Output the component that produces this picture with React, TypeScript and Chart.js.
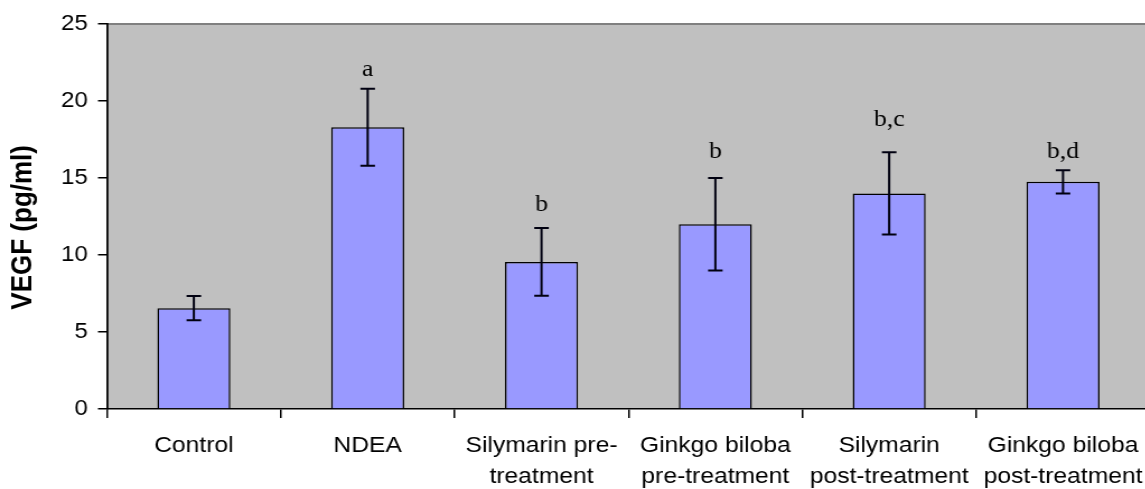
import React, { useEffect, useRef } from "react";
import { Chart, registerables } from "chart.js";

Chart.register(...registerables);

const categories: string[][] = [
  ["Control"],
  ["NDEA"],
  ["Silymarin pre-", "treatment"],
  ["Ginkgo biloba", "pre-treatment"],
  ["Silymarin", "post-treatment"],
  ["Ginkgo biloba", "post-treatment"],
];
const means = [6.55, 18.3, 9.55, 12.0, 14.0, 14.75];
const errors = [0.78, 2.5, 2.2, 3.0, 2.67, 0.75];
const letters = ["", "a", "b", "b", "b,c", "b,d"];
const letterValues = [0, 22.0, 13.25, 16.7, 18.8, 16.7];
const yTicks = [0, 5, 10, 15, 20, 25];

// horizontal stretch of the reference picture
const STRETCH = 1.12;
const CANVAS_W = 1036;
const CANVAS_H = 489;

const plotBg = {
  id: "plotBg",
  beforeDraw(chart: any) {
    const { ctx, chartArea } = chart;
    ctx.save();
    ctx.fillStyle = "#c0c0c0";
    ctx.fillRect(chartArea.left, chartArea.top, chartArea.right - chartArea.left, chartArea.bottom - chartArea.top);
    ctx.strokeStyle = "#808080";
    ctx.lineWidth = 2;
    ctx.beginPath();
    ctx.moveTo(chartArea.left, chartArea.top);
    ctx.lineTo(chartArea.right, chartArea.top);
    ctx.stroke();
    ctx.restore();
  },
};

const errorBars = {
  id: "errorBars",
  afterDatasetsDraw(chart: any) {
    const { ctx } = chart;
    const meta = chart.getDatasetMeta(0);
    const y = chart.scales.y;
    ctx.save();
    ctx.strokeStyle = "#000010";
    ctx.lineWidth = 2;
    meta.data.forEach((bar: any, i: number) => {
      const x = bar.x;
      const top = y.getPixelForValue(means[i] + errors[i]);
      const bot = y.getPixelForValue(means[i] - errors[i]);
      const cap = 6.5;
      ctx.beginPath();
      ctx.moveTo(x, top);
      ctx.lineTo(x, bot);
      ctx.moveTo(x - cap, top);
      ctx.lineTo(x + cap, top);
      ctx.moveTo(x - cap, bot);
      ctx.lineTo(x + cap, bot);
      ctx.stroke();
      if (letters[i]) {
        ctx.fillStyle = "#000";
        ctx.font = "23px 'Liberation Serif', serif";
        ctx.textAlign = "center";
        ctx.textBaseline = "middle";
        ctx.fillText(letters[i], x, y.getPixelForValue(letterValues[i]));
      }
    });
    ctx.restore();
  },
};

export default function App() {
  const ref = useRef<HTMLCanvasElement>(null);
  useEffect(() => {
    if (!ref.current) return;
    const chart = new Chart(ref.current, {
      type: "bar",
      data: {
        labels: categories as any,
        datasets: [
          {
            data: means,
            backgroundColor: "#9999ff",
            borderColor: "#000000",
            borderWidth: 1.5,
            categoryPercentage: 1,
            barPercentage: 0.42,
          },
        ],
      },
      options: {
        responsive: false,
        animation: false,
        devicePixelRatio: 1,
        layout: { padding: { top: 24, right: 9, left: 0, bottom: 0 } },
        plugins: { legend: { display: false }, tooltip: { enabled: false } },
        scales: {
          x: {
            afterFit(scale: any) {
              scale.height = 80;
              scale.paddingLeft = 0;
              scale.paddingRight = 0;
            },
            grid: { drawOnChartArea: false, offset: true, tickLength: 9, color: "#000", lineWidth: 1.5 },
            border: { color: "#000", width: 1.5 },
            ticks: {
              color: "#000",
              padding: 13,
              maxRotation: 0,
              autoSkip: false,
              font: { family: "'Liberation Sans', Arial, sans-serif", size: 22, lineHeight: 1.4 },
            },
          },
          y: {
            min: 0,
            max: 25,
            afterFit(scale: any) {
              scale.width = 95.5;
              scale.paddingTop = 0;
              scale.paddingBottom = 0;
            },
            afterBuildTicks(scale: any) {
              scale.ticks = yTicks.map((v) => ({ value: v }));
            },
            grid: { drawOnChartArea: false, tickLength: 8, color: "#000", lineWidth: 1.5 },
            border: { color: "#000", width: 1.8 },
            ticks: {
              color: "#000",
              padding: 9,
              font: { family: "'Liberation Sans', Arial, sans-serif", size: 21.5 },
            },
            title: {
              display: true,
              text: "VEGF (pg/ml)\u00a0\u00a0\u00a0",
              color: "#000",
              padding: { top: 5, bottom: 0 },
              font: { family: "'Liberation Sans', Arial, sans-serif", size: 26, weight: "bold" },
            },
          },
        },
      },
      plugins: [plotBg, errorBars],
    });
    return () => chart.destroy();
  }, []);
  return (
    <div style={{ position: "fixed", left: 0, top: 0, width: 1145, height: 489, overflow: "hidden", background: "#fff" }}>
      <canvas
        ref={ref}
        width={CANVAS_W}
        height={CANVAS_H}
        style={{ width: CANVAS_W * STRETCH, height: CANVAS_H, display: "block" }}
      />
    </div>
  );
}
